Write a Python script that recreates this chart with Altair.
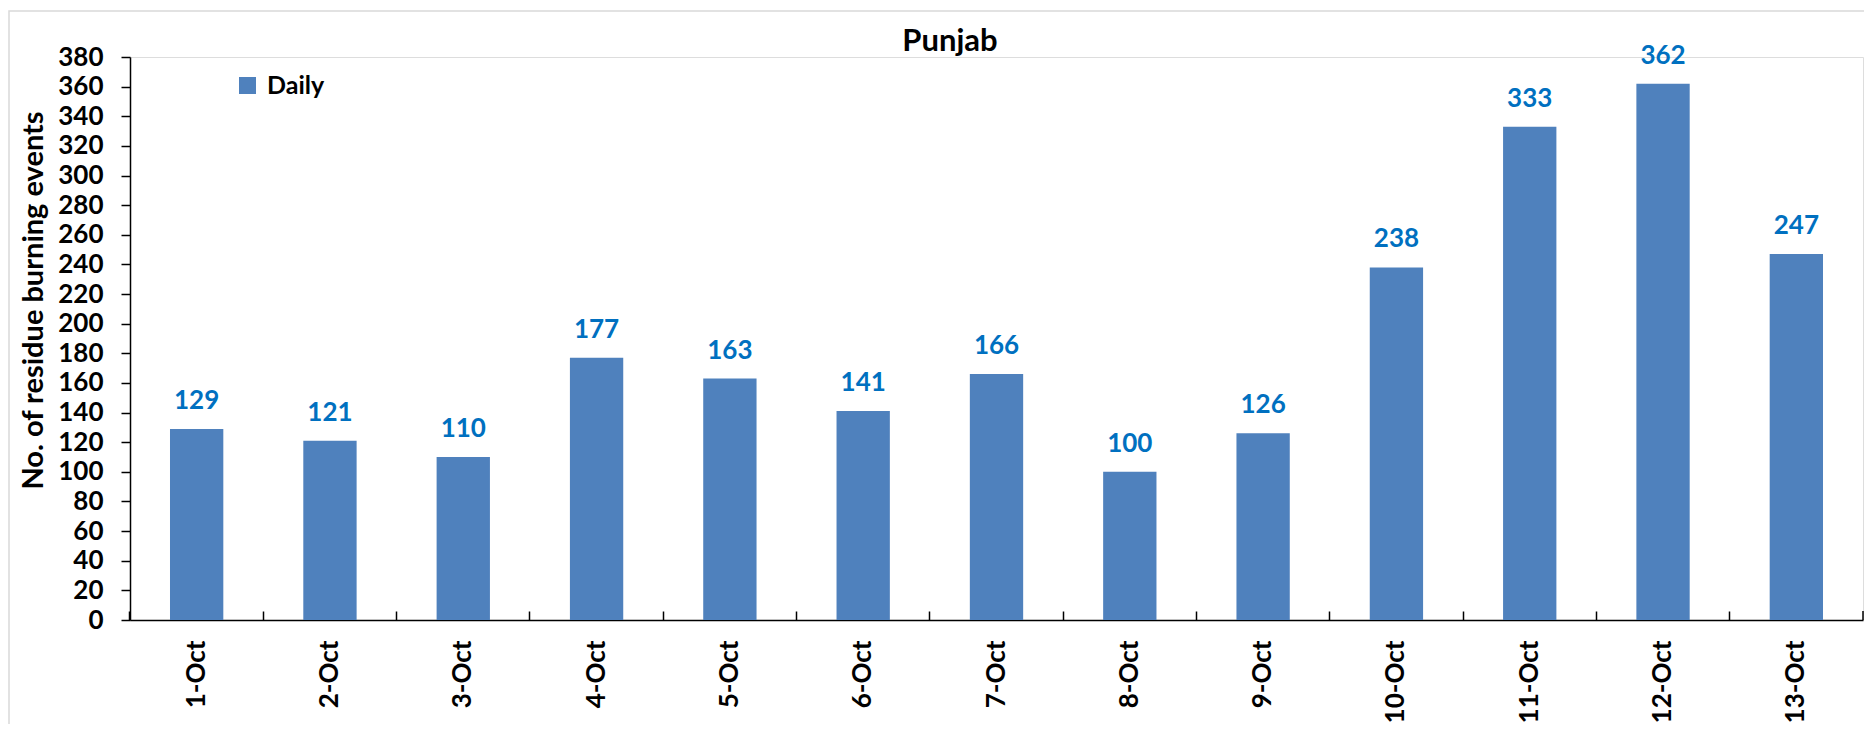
import altair as alt
import pandas as pd

dates = ["1-Oct", "2-Oct", "3-Oct", "4-Oct", "5-Oct", "6-Oct", "7-Oct",
         "8-Oct", "9-Oct", "10-Oct", "11-Oct", "12-Oct", "13-Oct"]
values = [129, 121, 110, 177, 163, 141, 166, 100, 126, 238, 333, 362, 247]
series = ["Daily"] * len(dates)
y_ticks = list(range(0, 381, 20))
chart_title = ["Punjab"]

df = pd.DataFrame({"date": dates, "value": values, "series": series})

FONT = "Lato"
W, H = 1733, 563

base = alt.Chart(df)

y_axis = alt.Axis(
    values=y_ticks, grid=False, labelOverlap=False,
    tickSize=9, tickColor="black", tickWidth=1.5,
    domainColor="black", domainWidth=1.5,
    labelFont=FONT, labelFontSize=26, labelFontWeight="bold",
    labelColor="black", labelPadding=18,
    title="No. of residue burning events",
    titleFont=FONT, titleFontSize=29, titleFontWeight="bold",
    titleColor="black", titleX=-97, titleY=243,
    titleAngle=270, titleBaseline="middle", titleAlign="center",
)
y_scale = alt.Scale(domain=[0, 380], nice=False, zero=True)


def y_enc():
    return alt.Y("value:Q", scale=y_scale, axis=y_axis)


x_scale = alt.Scale(paddingInner=0, paddingOuter=0)

bars = base.mark_bar(width={"band": 0.4}).encode(
    x=alt.X(
        "date:N", sort=dates, scale=x_scale,
        axis=alt.Axis(
            orient="bottom", ticks=False, grid=False, labelOverlap=False,
            domainColor="black", domainWidth=1.5,
            labelAngle=-90, labelAlign="right", labelBaseline="middle",
            labelFont=FONT, labelFontSize=26, labelFontWeight="bold",
            labelColor="black", labelPadding=20, title=None,
        ),
    ),
    y=y_enc(),
    color=alt.Color(
        "series:N",
        scale=alt.Scale(range=["#4F81BD"]),
        legend=alt.Legend(
            orient="none", legendX=105, legendY=16, title=None,
            symbolType="square", symbolSize=289, symbolStrokeWidth=0,
            symbolOpacity=1, labelFont=FONT, labelFontSize=25,
            labelFontWeight="bold", labelColor="black", labelOffset=7,
            padding=0,
        ),
    ),
)

labels = base.mark_text(
    color="#0070C0", font=FONT, fontSize=26, fontWeight="bold",
    baseline="alphabetic", dy=-20,
).encode(
    x=alt.X(
        "date:N", sort=dates, scale=x_scale,
        axis=alt.Axis(
            orient="top", offset=-H, labels=False, domain=False,
            ticks=True, tickSize=9, tickColor="black", tickWidth=1.5,
            bandPosition=0, title=None, grid=False,
        ),
    ),
    y=y_enc(),
    text=alt.Text("value:Q"),
)

one = alt.Data(values=[{}])
title_df = pd.DataFrame({"t": chart_title})
title_mark = alt.Chart(title_df).mark_text(
    font=FONT, fontSize=31, fontWeight="bold", color="black",
    align="center", baseline="alphabetic",
).encode(x=alt.value(820), y=alt.value(-6), text="t:N")

last_tick = alt.Chart(one).mark_rule(color="black", strokeWidth=1.5).encode(
    x=alt.value(W), y=alt.value(H - 9), y2=alt.value(H)
)
frame = alt.Chart(one).mark_rect(
    filled=False, stroke="#D9D9D9", strokeWidth=1.5
).encode(
    x=alt.value(-121), x2=alt.value(W + 200),
    y=alt.value(-46), y2=alt.value(H + 200),
)

chart = (
    alt.layer(frame, bars, labels, last_tick, title_mark)
    .resolve_axis(x="independent")
    .properties(
        width=W, height=H,
        padding={"left": 122, "top": 49, "right": 1, "bottom": 104},
        autosize=alt.AutoSizeParams(type="none"),
    )
    .configure_view(stroke=None)
    .configure(background="white")
)

chart.save("out.html", embed_options={"renderer": "svg", "actions": False})
